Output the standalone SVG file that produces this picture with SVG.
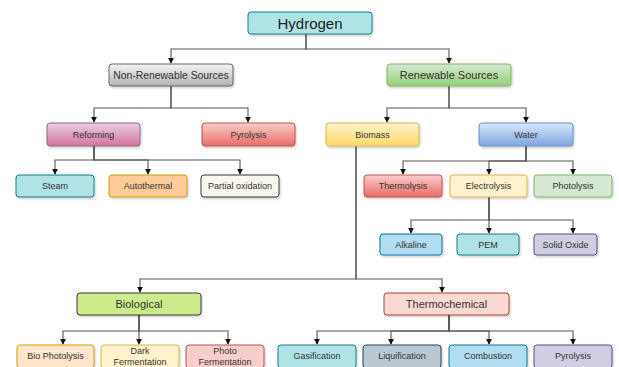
<svg xmlns="http://www.w3.org/2000/svg" width="619" height="367" viewBox="0 0 619 367">
<style>
text{font-family:"Liberation Sans",Arial,sans-serif;fill:#333;text-anchor:middle;dominant-baseline:central}
.t15{font-size:15px;fill:#222}
.t11{font-size:11px}
.t105{font-size:10.4px}
.t9{font-size:9px}
rect{stroke-width:1;filter:url(#sh)}
.e{fill:none;stroke:#555;stroke-width:1.1;marker-end:url(#ar)}
</style>
<defs>
<filter id="sh" x="-10%" y="-20%" width="130%" height="160%"><feDropShadow dx="1" dy="1.5" stdDeviation="0.8" flood-color="#000" flood-opacity="0.2"/></filter>
<marker id="ar" viewBox="0 0 8 8" refX="7" refY="4" markerWidth="6" markerHeight="6" markerUnits="userSpaceOnUse" orient="auto"><path d="M0,0 L8,4 L0,8 z" fill="#111"/></marker>
<linearGradient id="gGrey" x1="0" y1="0" x2="0" y2="1"><stop offset="0" stop-color="#f5f5f5"/><stop offset="1" stop-color="#b3b3b3"/></linearGradient>
<linearGradient id="gGreen" x1="0" y1="0" x2="0" y2="1"><stop offset="0" stop-color="#d5e8d4"/><stop offset="1" stop-color="#97d077"/></linearGradient>
<linearGradient id="gPink" x1="0" y1="0" x2="0" y2="1"><stop offset="0" stop-color="#e6d0de"/><stop offset="1" stop-color="#d5739d"/></linearGradient>
<linearGradient id="gRed" x1="0" y1="0" x2="0" y2="1"><stop offset="0" stop-color="#f8cecc"/><stop offset="1" stop-color="#ea6b66"/></linearGradient>
<linearGradient id="gYellow" x1="0" y1="0" x2="0" y2="1"><stop offset="0" stop-color="#fff2cc"/><stop offset="1" stop-color="#ffd966"/></linearGradient>
<linearGradient id="gBlue" x1="0" y1="0" x2="0" y2="1"><stop offset="0" stop-color="#dae8fc"/><stop offset="1" stop-color="#7ea6e0"/></linearGradient>
</defs>

<g id="connectors">
<path class="e" d="M306,34 V49 H171 V63"/>
<path class="e" d="M306,34 V49 H449 V63"/>
<path class="e" d="M171,86 V108 H94 V122"/>
<path class="e" d="M171,86 V108 H248 V122"/>
<path class="e" d="M449,86 V108 H387 V122"/>
<path class="e" d="M449,86 V108 H526 V122"/>
<path class="e" d="M94,146 V160 H55 V174"/>
<path class="e" d="M94,146 V160 H148 V174"/>
<path class="e" d="M94,146 V160 H240 V174"/>
<path class="e" d="M526,146 V161 H403 V174"/>
<path class="e" d="M526,146 V161 H489 V174"/>
<path class="e" d="M526,146 V161 H573 V174"/>
<path class="e" d="M489,197 V220 H411 V233"/>
<path class="e" d="M489,197 V220 H489 V233"/>
<path class="e" d="M489,197 V220 H573 V233"/>
<path class="e" d="M356,146 V279 H140 V292"/>
<path class="e" d="M356,146 V279 H442 V292"/>
<path class="e" d="M139,315 V331 H63 V344"/>
<path class="e" d="M139,315 V331 H139 V344"/>
<path class="e" d="M139,315 V331 H228 V344"/>
<path class="e" d="M449,315 V331 H317 V344"/>
<path class="e" d="M449,315 V331 H391 V344"/>
<path class="e" d="M449,315 V331 H489 V344"/>
<path class="e" d="M449,315 V331 H573 V344"/>
</g>

<g id="hydrogen"><rect x="248" y="12" width="124" height="22" rx="3" fill="#b0e3e6" stroke="#0e8088"/><text class="t15" x="310" y="23">Hydrogen</text></g>

<g id="nonrenewable"><rect x="109" y="64" width="124" height="22" rx="3" fill="url(#gGrey)" stroke="#666"/><text class="t105" x="171" y="75">Non-Renewable Sources</text></g>
<g id="renewable"><rect x="387" y="64" width="124" height="22" rx="3" fill="url(#gGreen)" stroke="#82b366"/><text class="t11" x="449" y="75">Renewable Sources</text></g>

<g id="reforming"><rect x="47" y="123" width="93" height="23" rx="3" fill="url(#gPink)" stroke="#996185"/><text class="t9" x="93.5" y="134.5">Reforming</text></g>
<g id="pyrolysis1"><rect x="202" y="123" width="93" height="23" rx="3" fill="url(#gRed)" stroke="#b85450"/><text class="t9" x="248.5" y="134.5">Pyrolysis</text></g>
<g id="biomass"><rect x="326" y="123" width="93" height="23" rx="3" fill="url(#gYellow)" stroke="#d6b656"/><text class="t9" x="372.5" y="134.5">Biomass</text></g>
<g id="water"><rect x="479" y="123" width="94" height="23" rx="3" fill="url(#gBlue)" stroke="#6c8ebf"/><text class="t9" x="526" y="134.5">Water</text></g>

<g id="steam"><rect x="16" y="175" width="78" height="22" rx="3" fill="#b0e3e6" stroke="#0e8088"/><text class="t9" x="55" y="186">Steam</text></g>
<g id="autothermal"><rect x="109" y="175" width="78" height="22" rx="3" fill="#ffcc99" stroke="#d79b00"/><text class="t9" x="148" y="186">Autothermal</text></g>
<g id="partial"><rect x="201" y="175" width="78" height="22" rx="3" fill="#f9f7ed" stroke="#36393d"/><text class="t9" x="240" y="186">Partial oxidation</text></g>

<g id="thermolysis"><rect x="364" y="175" width="78" height="22" rx="3" fill="url(#gRed)" stroke="#b85450"/><text class="t9" x="403" y="186">Thermolysis</text></g>
<g id="electrolysis"><rect x="450" y="175" width="77" height="22" rx="3" fill="#fff2cc" stroke="#d6b656"/><text class="t9" x="488.5" y="186">Electrolysis</text></g>
<g id="photolysis"><rect x="534" y="175" width="78" height="22" rx="3" fill="#d5e8d4" stroke="#82b366"/><text class="t9" x="573" y="186">Photolysis</text></g>

<g id="alkaline"><rect x="380" y="234" width="62" height="21" rx="3" fill="#b1ddf0" stroke="#10739e"/><text class="t9" x="411" y="244.5">Alkaline</text></g>
<g id="pem"><rect x="457" y="234" width="62" height="21" rx="3" fill="#b0e3e6" stroke="#0e8088"/><text class="t9" x="488" y="244.5">PEM</text></g>
<g id="solidoxide"><rect x="534" y="234" width="63" height="21" rx="3" fill="#d0cee2" stroke="#56517e"/><text class="t9" x="565.5" y="244.5">Solid Oxide</text></g>

<g id="biological"><rect x="77" y="293" width="124" height="22" rx="3" fill="#cdeb8b" stroke="#36393d"/><text class="t11" x="139" y="304">Biological</text></g>
<g id="thermochemical"><rect x="384" y="293" width="125" height="22" rx="3" fill="#fad9d5" stroke="#ae4132"/><text class="t11" x="446.5" y="304">Thermochemical</text></g>

<g id="biophotolysis"><rect x="17" y="345" width="77" height="23" rx="3" fill="#ffe6cc" stroke="#d79b00"/><text class="t9" x="55.5" y="356">Bio Photolysis</text></g>
<g id="darkferm"><rect x="101" y="345" width="78" height="23" rx="3" fill="#fff2cc" stroke="#d6b656"/><text class="t9" x="140" y="351">Dark</text><text class="t9" x="140" y="362">Fermentation</text></g>
<g id="photoferm"><rect x="186" y="345" width="78" height="23" rx="3" fill="#f8cecc" stroke="#b85450"/><text class="t9" x="225" y="351">Photo</text><text class="t9" x="225" y="362">Fermentation</text></g>
<g id="gasification"><rect x="278" y="345" width="78" height="23" rx="3" fill="#b0e3e6" stroke="#0e8088"/><text class="t9" x="317" y="356">Gasification</text></g>
<g id="liquification"><rect x="363" y="345" width="78" height="23" rx="3" fill="#bac8d3" stroke="#23445d"/><text class="t9" x="402" y="356">Liquification</text></g>
<g id="combustion"><rect x="449" y="345" width="78" height="23" rx="3" fill="#b1ddf0" stroke="#10739e"/><text class="t9" x="488" y="356">Combustion</text></g>
<g id="pyrolysis2"><rect x="534" y="345" width="78" height="23" rx="3" fill="#d0cee2" stroke="#56517e"/><text class="t9" x="573" y="356">Pyrolysis</text></g>
</svg>
